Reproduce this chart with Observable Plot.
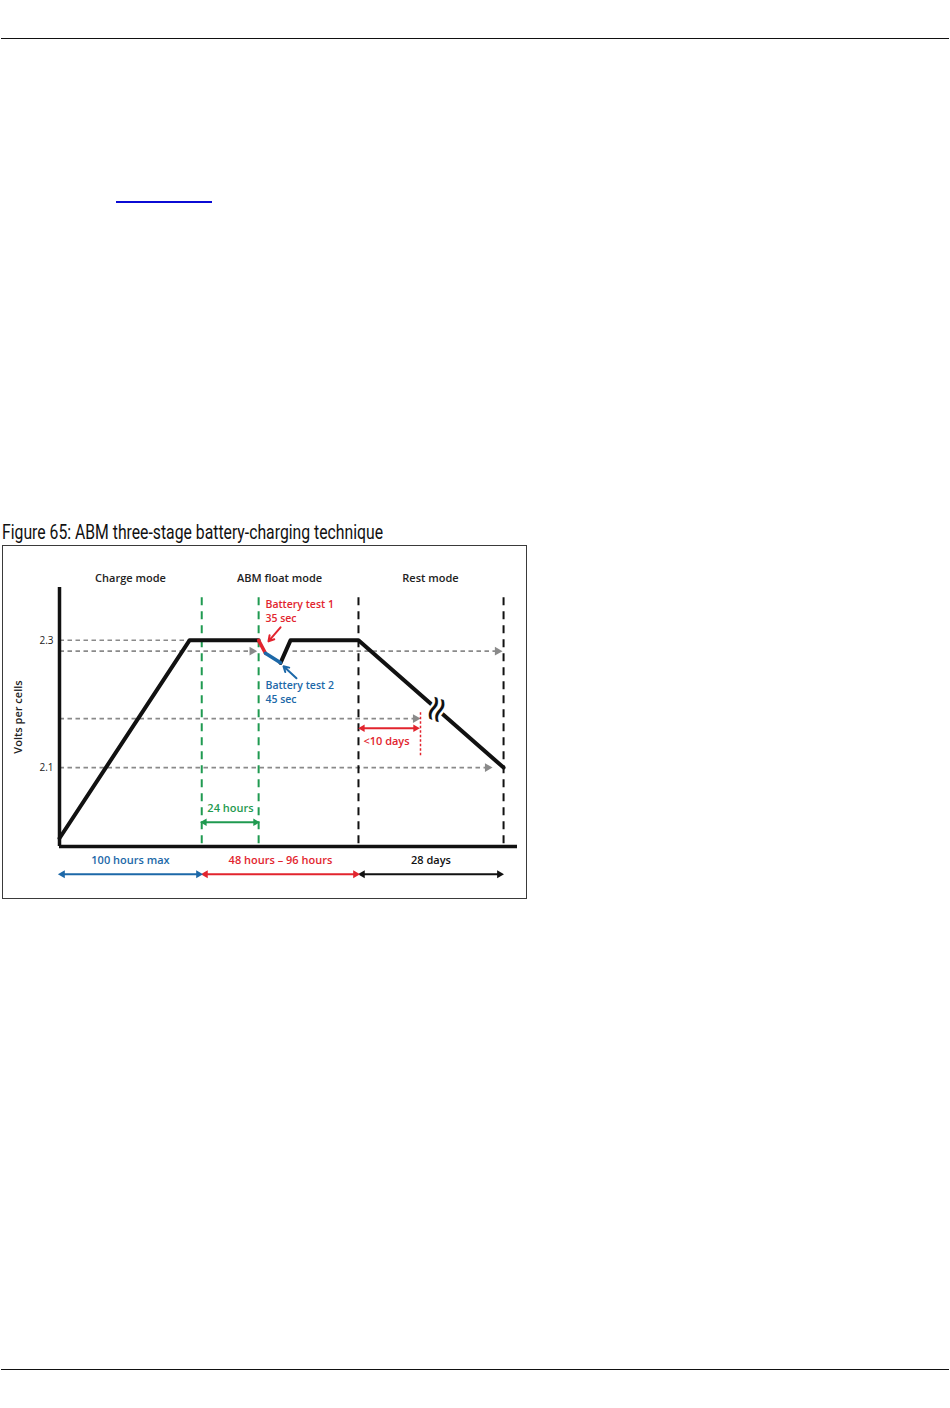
<!DOCTYPE html>
<html><head><meta charset="utf-8">
<script src="https://cdn.jsdelivr.net/npm/d3@7"></script>
<script src="https://cdn.jsdelivr.net/npm/@observablehq/plot@0.6"></script>
<style>
body{margin:0;background:#fff;width:950px;height:1408px;position:relative;font-family:"Open Sans",sans-serif;overflow:hidden}
.rule{position:absolute;left:1px;width:948px;height:0;border-top:1.4px solid #111}
#link{position:absolute;left:116px;top:201px;width:96px;height:2px;background:#0b0bd4}
#title{position:absolute;left:2px;top:521px;font-family:Roboto,sans-serif;font-size:21px;white-space:nowrap;transform-origin:left top;color:#111;line-height:22px}
#frame{position:absolute;left:2px;top:545px;width:523px;height:352px;border:1.3px solid #3a3a3a}
#chart{position:absolute;left:0;top:0}
</style></head>
<body>
<div class="rule" style="top:38px"></div>
<div id="link"></div>
<div id="title">Figure 65: ABM three-stage battery-charging technique</div>
<div id="frame"><div id="chart"></div></div>
<div class="rule" style="top:1369px"></div>
<script>
// ---------- data (schematic units: x = time stage, y = volts per cell) ----------
const modeNames = ["Charge mode", "ABM float mode", "Rest mode"];
const modeX = [49.9, 154.7, 260.8];

const mainX1 = [0, 91.4, 140];
const mainV1 = [1.989, 2.3, 2.3];
const test1X = [140, 144.8];
const test1V = [2.3, 2.2796];
const test2X = [144.8, 155.4];
const test2V = [2.2796, 2.2646];
const mainX2 = [155.4, 162.4, 210.2, 312.2];
const mainV2 = [2.2646, 2.3, 2.3, 2.1];

const boundX = [100, 140, 210.2, 312.2];
const boundKind = ["green", "green", "black", "black"];

const refV = [2.3, 2.283, 2.283, 2.177, 2.1];
const refStart = [0, 0, 163.8, 0, 0];
const refEnd = [91.4, 137.5, 310, 252.4, 303];
const refArrow = [false, true, true, true, true];

const yTicks = [2.1, 2.3];
const yTitle = "Volts per cells", yTitleX = -28.8;
const vTop = 2.3676, vBottom = 1.976, vTopAxis = 2.383, xEnd = 322;

const spans = [
  {label: "100 hours max", x1: 0.7, x2: 99.1, c: "blue"},
  {label: "48 hours – 96 hours", x1: 101.2, x2: 209.5, c: "red"},
  {label: "28 days", x1: 211.6, x2: 310.7, c: "black"}
];
const spanY = 1.9323, spanLabelY = 1.9543;

const dayX = [211.6, 251.7], dayY = 2.1617, dayLabel = "<10 days", dayLabelX = 229.9, dayLabelY = 2.1413;
const dayLimitX = 253.8, dayLimitV = [2.1869, 2.1193];
const hourX = [100.5, 139.2], hourY = 2.014, hourLabel = "24 hours", hourLabelX = 120.2, hourLabelY = 2.036;

const test1Lines = ["Battery test 1", "35 sec"], test1LabelX = 144.8, test1LineY = [2.3566, 2.3346];
const test1Arrow = {x1: 155.4, y1: 2.3204, x2: 146.9, y2: 2.2984};
const test2Lines = ["Battery test 2", "45 sec"], test2LabelX = 144.8, test2LineY = [2.2293, 2.2073];
const test2Arrow = {x1: 166.6, y1: 2.2403, x2: 157.5, y2: 2.2591};

const breakX = 265, breakV = 2.1916;
const modeLabelY = 2.3974;

// ---------- styles ----------
const RED = "#e2242e", BLUE = "#1c68a8", GREEN = "#1f9a50", GRAY = "#8a8a8a", BLACK = "#111";
const col = {red: RED, blue: BLUE, green: GREEN, black: BLACK};

const pts = (xs, ys) => xs.map((x, i) => ({x, y: ys[i]}));
const refs = refV.map((v, i) => ({v, x1: refStart[i], x2: refEnd[i], arrow: refArrow[i]}));
const bounds = boundX.map((x, i) => ({x, c: col[boundKind[i]]}));

const font = {fontFamily: "'Open Sans', sans-serif", fontWeight: 600, fontSize: 11};
const testFont = {...font, fontSize: 10.5};

const chart = Plot.plot({
  width: 523, height: 352,
  marginLeft: 56, marginRight: 9, marginTop: 41, marginBottom: 52,
  style: {fontFamily: "'Open Sans', sans-serif", background: "transparent", overflow: "visible"},
  x: {domain: [0, xEnd], axis: null},
  y: {domain: [vBottom, vTopAxis], axis: null},
  marks: [
    // gray dashed reference levels
    Plot.link(refs, {x1: "x1", x2: d => d.arrow ? d.x2 - 3 : d.x2, y1: "v", y2: "v", stroke: GRAY, strokeWidth: 1.6, strokeDasharray: "4.5,3.5"}),
    Plot.dot(refs.filter(d => d.arrow), {x: "x2", y: "v", symbol: "triangle2", rotate: 90, r: 4.2, fill: GRAY, dx: -3}),
    // stage boundaries
    Plot.link(bounds, {x1: "x", x2: "x", y1: vTop, y2: vBottom, stroke: "c", strokeWidth: 2, strokeDasharray: "8,6"}),
    // <10 days limit
    Plot.link([0], {x1: dayLimitX, x2: dayLimitX, y1: dayLimitV[0], y2: dayLimitV[1], stroke: RED, strokeWidth: 1.5, strokeDasharray: "2.5,2"}),
    // axes lines
    Plot.ruleX([0], {y1: vBottom, y2: vTopAxis, stroke: BLACK, strokeWidth: 3.5}),
    Plot.ruleY([vBottom], {x1: 0, x2: xEnd, stroke: BLACK, strokeWidth: 3.5}),
    Plot.axisY(yTicks, {tickSize: 0, tickPadding: 6, tickFormat: d3.format(".1f"), fontSize: 10, label: null, fill: "#222"}),
    Plot.text([yTitle], {x: yTitleX, y: (vBottom + vTopAxis) / 2, rotate: -90, ...font, fill: "#222"}),
    // voltage curve
    Plot.line(pts(mainX1, mainV1), {x: "x", y: "y", stroke: BLACK, strokeWidth: 4, strokeLinejoin: "round"}),
    Plot.line(pts(mainX2, mainV2), {x: "x", y: "y", stroke: BLACK, strokeWidth: 4, strokeLinejoin: "round"}),
    Plot.line(pts(test1X, test1V), {x: "x", y: "y", stroke: RED, strokeWidth: 3.5, strokeLinecap: "round"}),
    Plot.line(pts(test2X, test2V), {x: "x", y: "y", stroke: BLUE, strokeWidth: 3.5, strokeLinecap: "round"}),
    // break symbol
    Plot.text(["≈"], {x: breakX, y: breakV, rotate: -70, fontSize: 36, fill: BLACK, stroke: "white", strokeWidth: 5, paintOrder: "stroke", fontFamily: "DejaVu Sans"}),
    // mode headings
    Plot.text(modeNames, {x: (d, i) => modeX[i], y: modeLabelY, ...font, fill: "#222"}),
    // battery tests
    Plot.text(test1Lines, {x: test1LabelX, y: (d, i) => test1LineY[i], textAnchor: "start", ...testFont, fill: RED}),
    Plot.arrow([test1Arrow], {x1: "x1", y1: "y1", x2: "x2", y2: "y2", stroke: RED, strokeWidth: 2, headLength: 7}),
    Plot.text(test2Lines, {x: test2LabelX, y: (d, i) => test2LineY[i], textAnchor: "start", ...testFont, fill: BLUE}),
    Plot.arrow([test2Arrow], {x1: "x1", y1: "y1", x2: "x2", y2: "y2", stroke: BLUE, strokeWidth: 2, headLength: 7}),
    // <10 days
    Plot.link([0], {x1: dayX[0] + 2, x2: dayX[1] - 2, y1: dayY, y2: dayY, stroke: RED, strokeWidth: 2}),
    Plot.dot([dayX[0]], {x: d => d, y: dayY, symbol: "triangle2", rotate: -90, r: 3.6, fill: RED, dx: 2}),
    Plot.dot([dayX[1]], {x: d => d, y: dayY, symbol: "triangle2", rotate: 90, r: 3.6, fill: RED, dx: -2}),
    Plot.text([dayLabel], {x: dayLabelX, y: dayLabelY, ...font, fill: RED}),
    // 24 hours
    Plot.link([0], {x1: hourX[0] + 2, x2: hourX[1] - 2, y1: hourY, y2: hourY, stroke: GREEN, strokeWidth: 2}),
    Plot.dot([hourX[0]], {x: d => d, y: hourY, symbol: "triangle2", rotate: -90, r: 3.6, fill: GREEN, dx: 2}),
    Plot.dot([hourX[1]], {x: d => d, y: hourY, symbol: "triangle2", rotate: 90, r: 3.6, fill: GREEN, dx: -2}),
    Plot.text([hourLabel], {x: hourLabelX, y: hourLabelY, ...font, fill: GREEN}),
    // bottom spans
    Plot.link(spans, {x1: d => d.x1 + 1.5, x2: d => d.x2 - 1.5, y1: spanY, y2: spanY, stroke: d => col[d.c], strokeWidth: 2}),
    Plot.dot(spans, {x: "x1", y: spanY, symbol: "triangle2", rotate: -90, r: 3.8, fill: d => col[d.c], dx: 2}),
    Plot.dot(spans, {x: "x2", y: spanY, symbol: "triangle2", rotate: 90, r: 3.8, fill: d => col[d.c], dx: -2}),
    Plot.text(spans, {x: d => (d.x1 + d.x2) / 2, y: spanLabelY, text: "label", ...font, fill: d => col[d.c]})
  ]
});
document.getElementById("chart").appendChild(chart);

// fit the condensed title width
const t = document.getElementById("title");
const w = t.getBoundingClientRect().width;
t.style.transform = `scaleX(${381 / w})`;
</script>
</body></html>
